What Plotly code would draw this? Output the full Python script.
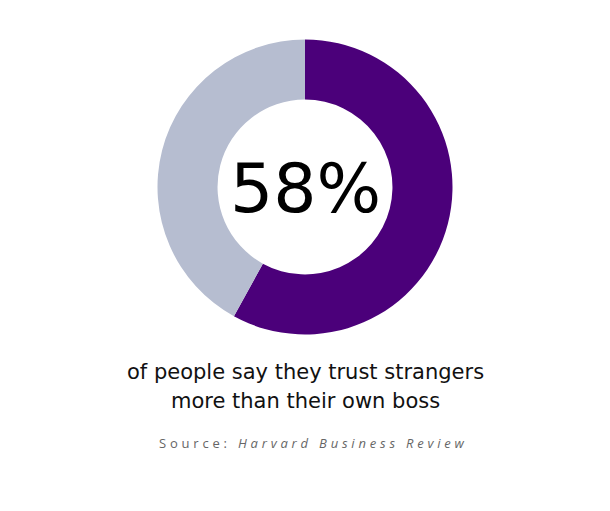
import plotly.graph_objects as go

labels = ["Trust strangers more", "Other"]
values = [58, 42]
colors = ["#4b007a", "#b6bdd0"]
center_text = "58%"
caption_lines = ["of people say they trust strangers", "more than their own boss"]
source_label = "Source: "
source_name = "Harvard Business Review"

W, H = 610, 511
OFF = 8  # page body margin
cx, cy, r = 305 - OFF, 187 - OFF, 147.5

fig = go.Figure(go.Pie(
    labels=labels, values=values, hole=0.593, sort=False,
    direction="clockwise", rotation=0,
    marker=dict(colors=colors, line=dict(width=0)),
    textinfo="none", hoverinfo="skip", showlegend=False,
    domain=dict(x=[(cx - r) / W, (cx + r) / W], y=[(H - cy - r) / H, (H - cy + r) / H]),
))

fig.add_annotation(x=cx / W, y=1 - (cy + 1) / H, xref="paper", yref="paper",
                   text=center_text, showarrow=False,
                   font=dict(family="DejaVu Sans", size=68, color="#000000"),
                   xanchor="center", yanchor="middle")
for i, line in enumerate(caption_lines):
    fig.add_annotation(x=cx / W, y=1 - (372 - OFF + 29 * i) / H, xref="paper", yref="paper",
                       text=line, showarrow=False,
                       font=dict(family="DejaVu Sans", size=21, color="#111111"),
                       xanchor="center", yanchor="middle")
fig.add_annotation(x=(313 - OFF) / W, y=1 - (443 - OFF) / H, xref="paper", yref="paper",
                   text=f'<span style="letter-spacing:3.8px">{source_label}<i>{source_name}</i></span>',
                   showarrow=False,
                   font=dict(family="Open Sans", size=13, color="#666666"),
                   xanchor="center", yanchor="middle")

fig.update_layout(width=W, height=H, margin=dict(l=0, r=0, t=0, b=0),
                  paper_bgcolor="white", plot_bgcolor="white")
fig.write_html("out.html")
